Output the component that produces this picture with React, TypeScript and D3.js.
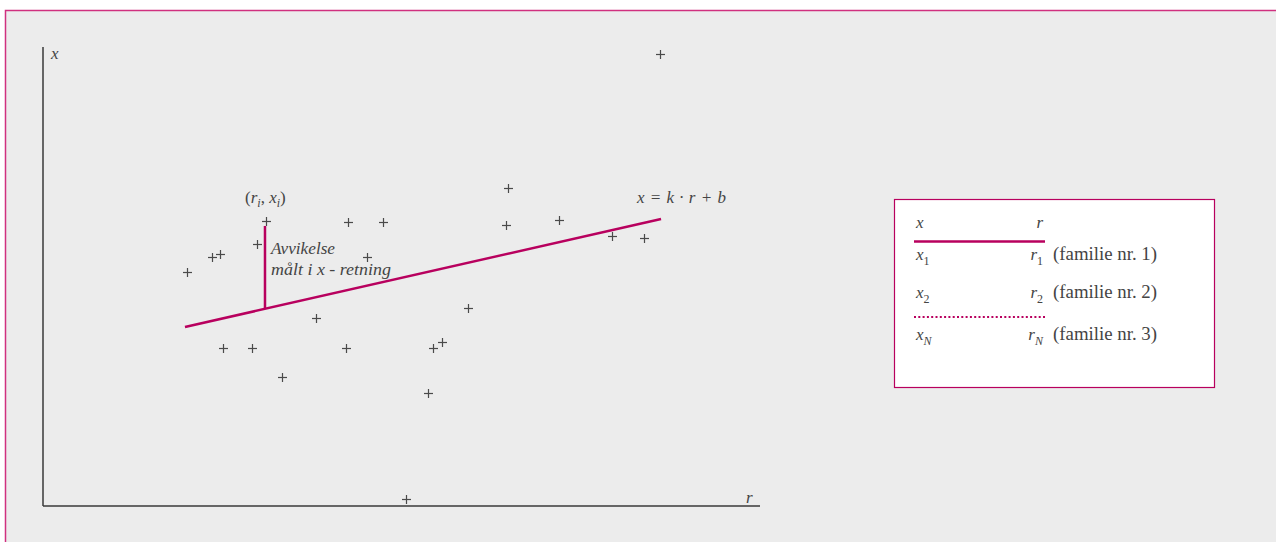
import React from "react";
import * as d3 from "d3";

// Observations (r, x) in data units (r: 0..100, x: 0..100)
const pointR = [86.0, 64.8, 31.1, 42.5, 47.4, 64.6, 72.0, 79.4, 83.8, 29.8, 23.6, 24.7, 20.1, 45.2, 59.3, 38.1, 25.1, 29.1, 42.3, 54.4, 55.6, 33.3, 53.7, 50.6];
const pointX = [98.5, 69.3, 62.1, 61.9, 61.9, 61.2, 62.3, 58.8, 58.4, 57.1, 54.2, 54.9, 51.0, 54.2, 43.1, 41.0, 34.4, 34.4, 34.4, 34.4, 35.7, 28.1, 24.6, 1.5];

// Regression line x = k*r + b
const slopeK = 0.354;
const interceptB = 32.0;
const lineRRange = [19.8, 86.2];
// highlighted observation index (r_i, x_i)
const highlightIndex = 2;

const legendRows = [
  { x: "1", r: "1", label: "(familie nr. 1)" },
  { x: "2", r: "2", label: "(familie nr. 2)" },
  { x: "N", r: "N", label: "(familie nr. 3)" },
];

const W = 1276;
const H = 542;
const MAG = "#b8005e";
const BORDER = "#d0307f";
const TXT = "#444";
const FONT = "'Liberation Serif', 'DejaVu Serif', serif";

export default function App() {
  const xS = d3.scaleLinear().domain([0, 100]).range([43, 760]);
  const yS = d3.scaleLinear().domain([0, 100]).range([506, 47]);
  const line = d3
    .line<number>()
    .x((r) => xS(r))
    .y((r) => yS(slopeK * r + interceptB));
  const hr = pointR[highlightIndex];
  const hx = pointX[highlightIndex];
  const devTop = yS(hx) + 5;
  const devBottom = yS(slopeK * hr + interceptB);
  const p = 4.5;

  return (
    <svg
      width={W}
      height={H}
      style={{ position: "absolute", left: 0, top: 0, display: "block" }}
      fontFamily={FONT}
    >
      <rect x={0} y={0} width={W} height={H} fill="#fff" />
      <rect x={5.5} y={10.5} width={W + 20} height={H + 20} fill="#ececec" stroke={BORDER} strokeWidth={1.5} />

      {/* axes */}
      <line x1={xS(0)} y1={yS(0)} x2={xS(100)} y2={yS(0)} stroke="#3a3a3a" strokeWidth={1.5} />
      <line x1={xS(0)} y1={yS(0)} x2={xS(0)} y2={yS(100)} stroke="#3a3a3a" strokeWidth={1.5} />
      <text x={51} y={59} fontSize={17} fontStyle="italic" fill={TXT}>x</text>
      <text x={746} y={503} fontSize={17} fontStyle="italic" fill={TXT}>r</text>

      {/* points */}
      {pointR.map((r, i) => {
        const cx = Math.round(xS(r)) + 0.5;
        const cy = Math.round(yS(pointX[i])) + 0.5;
        return (
          <g key={i} stroke="#4a4a4a" strokeWidth={1.2}>
            <line x1={cx - p} y1={cy} x2={cx + p} y2={cy} />
            <line x1={cx} y1={cy - p} x2={cx} y2={cy + p} />
          </g>
        );
      })}

      {/* regression line */}
      <path d={line(lineRRange) || ""} stroke={MAG} strokeWidth={2.5} fill="none" />
      <line x1={xS(hr) - 1} y1={devTop} x2={xS(hr) - 1} y2={devBottom} stroke={MAG} strokeWidth={2.5} />

      {/* annotations */}
      <text x={245} y={203} fontSize={17} fill={TXT}>
        (<tspan fontStyle="italic">r</tspan>
        <tspan fontStyle="italic" fontSize={12} dy={4}>i</tspan>
        <tspan dy={-4}>,&#160;</tspan>
        <tspan fontStyle="italic">x</tspan>
        <tspan fontStyle="italic" fontSize={12} dy={4}>i</tspan>
        <tspan dy={-4}>)</tspan>
      </text>
      <text x={271} y={254} fontSize={17} fontStyle="italic" fill={TXT} textLength={64} lengthAdjust="spacingAndGlyphs">Avvikelse</text>
      <text x={271} y={275} fontSize={17} fontStyle="italic" fill={TXT} textLength={120} lengthAdjust="spacingAndGlyphs">målt i x - retning</text>
      <text x={637} y={203} fontSize={17} fontStyle="italic" fill={TXT} textLength={89} lengthAdjust="spacing">x = k · r + b</text>

      {/* legend box */}
      <rect x={894.5} y={199.5} width={320} height={188} fill="#fff" stroke={MAG} strokeWidth={1.2} />
      <text x={916} y={228} fontSize={17} fontStyle="italic" fill={TXT}>x</text>
      <text x={1043} y={228} fontSize={17} fontStyle="italic" fill={TXT} textAnchor="end">r</text>
      <line x1={914} y1={241.5} x2={1045} y2={241.5} stroke={MAG} strokeWidth={2.5} />
      <line x1={914} y1={317} x2={1045} y2={317} stroke={MAG} strokeWidth={2} strokeDasharray="2 2.3" />
      {legendRows.map((row, i) => {
        const y = [260, 298, 340][i];
        return (
          <g key={i} fill={TXT}>
            <text x={916} y={y} fontSize={17} fontStyle="italic">
              x<tspan fontSize={12} fontStyle={row.x === "N" ? "italic" : "normal"} dy={5}>{row.x}</tspan>
            </text>
            <text x={1043} y={y} fontSize={17} fontStyle="italic" textAnchor="end">
              r<tspan fontSize={12} fontStyle={row.r === "N" ? "italic" : "normal"} dy={5}>{row.r}</tspan>
            </text>
            <text x={1053} y={y} fontSize={18} textLength={104} lengthAdjust="spacingAndGlyphs">{row.label}</text>
          </g>
        );
      })}
    </svg>
  );
}
